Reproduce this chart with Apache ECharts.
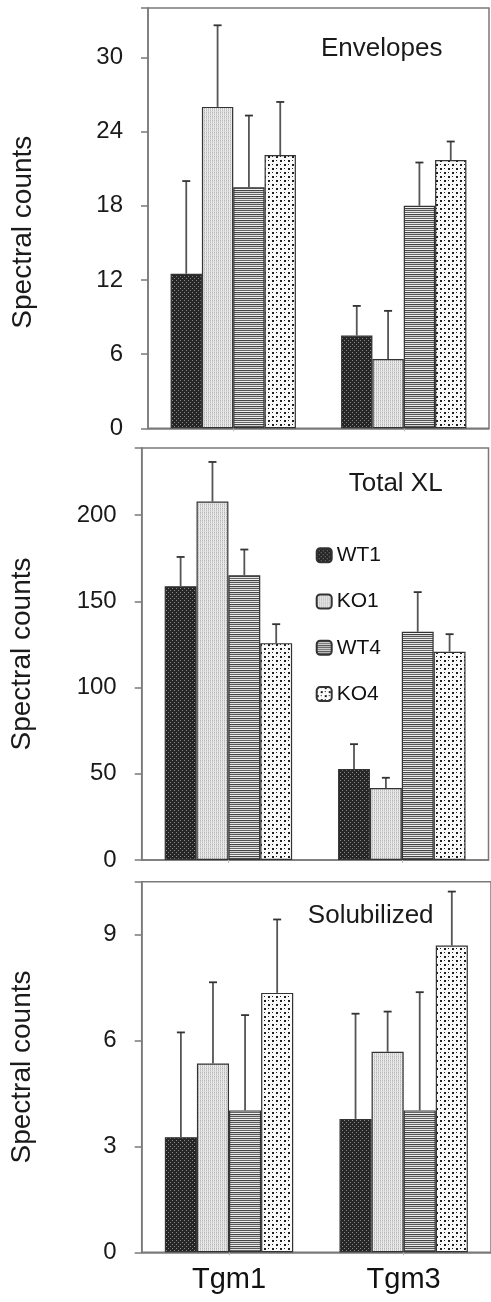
<!DOCTYPE html>
<html><head><meta charset="utf-8">
<script src="https://cdn.jsdelivr.net/npm/echarts@6/dist/echarts.min.js"></script>
<style>html,body{margin:0;padding:0;background:#fff}#c{width:491px;height:1302px}</style>
</head><body><div id="c"></div>
<script>
// ---------- data ----------
const categories = ['Tgm1', 'Tgm3'];
const seriesNames = ['WT1', 'KO1', 'WT4', 'KO4'];
const panelTitles = ['Envelopes', 'Total XL', 'Solubilized'];

// means per series (WT1, KO1, WT4, KO4), each [Tgm1, Tgm3]
const envelopesMeans = [[12.5, 7.5], [26.0, 5.6], [19.5, 18.0], [22.1, 21.7]];
const envelopesErrors = [[7.5, 2.4], [6.6, 3.9], [5.8, 3.5], [4.3, 1.5]];
const totalXLMeans = [[158.8, 52.8], [207.9, 41.7], [165.2, 132.4], [125.8, 120.8]];
const totalXLErrors = [[17.0, 14.4], [23.0, 6.0], [14.9, 23.0], [11.0, 10.2]];
const solubilizedMeans = [[3.26, 3.78], [5.35, 5.68], [4.02, 4.02], [7.35, 8.69]];
const solubilizedErrors = [[2.97, 2.98], [2.30, 1.14], [2.70, 3.35], [2.08, 1.53]];

const envelopesTicks = [0, 6, 12, 18, 24, 30];
const totalXLTicks = [0, 50, 100, 150, 200];
const solubilizedTicks = [0, 3, 6, 9];
const axisMax = [34, 239, 10.5];

// ---------- styles ----------
const FONT = '"Liberation Sans", Arial, sans-serif';
const CAT_GAP = 0.265;

function mk(w, h, draw) {
  const c = document.createElement('canvas');
  c.width = w; c.height = h;
  const g = c.getContext('2d');
  draw(g);
  return c;
}
const patterns = [
  mk(4, 4, g => { g.fillStyle = '#262626'; g.fillRect(0, 0, 4, 4); g.fillStyle = '#8a8a8a'; g.fillRect(0, 0, 1, 1); g.fillRect(2, 2, 1, 1); }),
  mk(2, 4, g => { const cols = [['#b4b4b4', '#cfcfcf', '#bcbcbc', '#d8d8d8'], ['#efefef', '#e6e6e6', '#f2f2f2', '#e2e2e2']]; cols.forEach((col, x) => col.forEach((c, y) => { g.fillStyle = c; g.fillRect(x, y, 1, 1); })); }),
  mk(4, 6, g => { const rows = ['#555', '#e4e4e4', '#666', '#f0f0f0', '#444', '#d0d0d0']; rows.forEach((r, i) => { g.fillStyle = r; g.fillRect(0, i, 4, 1); }); }),
  mk(8, 8, g => { g.fillStyle = '#fafafa'; g.fillRect(0, 0, 8, 8); g.fillStyle = '#1e1e1e'; g.fillRect(0, 0, 2, 2); g.fillRect(4, 4, 2, 2); g.fillRect(4, 0, 1, 1); g.fillRect(0, 4, 1, 1); })
];

const grids = [
  { left: 148, top: 8, width: 341, height: 420.3 },
  { left: 141.7, top: 448, width: 346.8, height: 412 },
  { left: 141.7, top: 881.7, width: 353.4, height: 370.6 }
];
const panels = [
  { means: envelopesMeans, errs: envelopesErrors, ticks: envelopesTicks },
  { means: totalXLMeans, errs: totalXLErrors, ticks: totalXLTicks },
  { means: solubilizedMeans, errs: solubilizedErrors, ticks: solubilizedTicks }
];
const titlePos = [[381.7, 49.3], [395.7, 484], [370.7, 915.7]];

const option = {
  animation: false,
  backgroundColor: '#fff',
  grid: grids.map(g => Object.assign({ show: true, borderColor: '#7a7a7a', borderWidth: 1.5, backgroundColor: 'transparent' }, g)),
  xAxis: grids.map((g, i) => ({
    type: 'category', gridIndex: i, data: categories,
    axisLine: { lineStyle: { color: '#7a7a7a', width: 1.5 } },
    axisTick: { show: true, alignWithLabel: true, length: 3, lineStyle: { color: '#bbb' } },
    axisLabel: { show: i === 2, fontFamily: FONT, fontSize: 29, color: '#111', margin: 13 }
  })),
  yAxis: panels.map((p, i) => {
    const interval = p.ticks[1] - p.ticks[0];
    return {
      type: 'value', gridIndex: i, min: p.ticks[0], max: axisMax[i], interval: interval,
      name: 'Spectral counts', nameLocation: 'middle', nameRotate: 90,
      nameGap: i === 0 ? 111 : 105,
      nameTextStyle: { fontFamily: FONT, fontSize: 28, color: '#1a1a1a', padding: i === 0 ? [0, 28, 0, 0] : 0 },
      axisLine: { show: true, lineStyle: { color: '#7a7a7a', width: 1.5 } },
      axisTick: { show: true, length: 7, lineStyle: { color: '#7a7a7a', width: 1.5 } },
      splitLine: { show: false },
      axisLabel: {
        fontFamily: FONT, fontSize: 24, color: '#1a1a1a', margin: 25,
        formatter: v => (p.ticks.indexOf(v) >= 0 ? String(v) : '')
      }
    };
  }),
  legend: {
    orient: 'vertical', left: 315.7, top: 544.7, padding: 0,
    itemWidth: 15, itemHeight: 14, itemGap: 25.3,
    data: seriesNames,
    textStyle: { fontFamily: FONT, fontSize: 21, color: '#111' },
    selectedMode: false
  },
  graphic: panelTitles.map((t, i) => ({
    type: 'text', x: titlePos[i][0], y: titlePos[i][1],
    style: { text: t, fill: '#1a1a1a', font: '26px ' + FONT, textAlign: 'center', textVerticalAlign: 'middle' }
  })),
  series: []
};

panels.forEach((p, i) => {
  seriesNames.forEach((name, s) => {
    option.series.push({
      type: 'bar', name: name, xAxisIndex: i, yAxisIndex: i,
      data: p.means[s],
      barGap: '0%', barCategoryGap: (CAT_GAP * 100) + '%',
      itemStyle: { color: { image: patterns[s], repeat: 'repeat' }, borderColor: '#333', borderWidth: 1.2 },
      z: 2
    });
  });
  const errData = [];
  seriesNames.forEach((name, s) => {
    categories.forEach((c, j) => errData.push([j, s, p.means[s][j], p.errs[s][j]]));
  });
  option.series.push({
    type: 'custom', xAxisIndex: i, yAxisIndex: i, z: 3,
    encode: { x: 0, y: 2 },
    data: errData,
    renderItem: (params, api) => {
      const c = api.value(0), s = api.value(1), v = api.value(2), e = api.value(3);
      const p0 = api.coord([c, v]);
      const p1 = api.coord([c, v + e]);
      const band = api.size([1, 0])[0];
      const bw = band * (1 - CAT_GAP) / 4;
      const x = p0[0] + (s - 1.5) * bw;
      return {
        type: 'group', children: [
          { type: 'line', shape: { x1: x, y1: p0[1], x2: x, y2: p1[1] }, style: { stroke: '#555', lineWidth: 1.8 } },
          { type: 'line', shape: { x1: x - 4, y1: p1[1], x2: x + 4, y2: p1[1] }, style: { stroke: '#333', lineWidth: 1.8 } }
        ]
      };
    }
  });
});

const chart = echarts.init(document.getElementById('c'), null, { renderer: 'canvas' });
chart.setOption(option);
</script>
</body></html>
